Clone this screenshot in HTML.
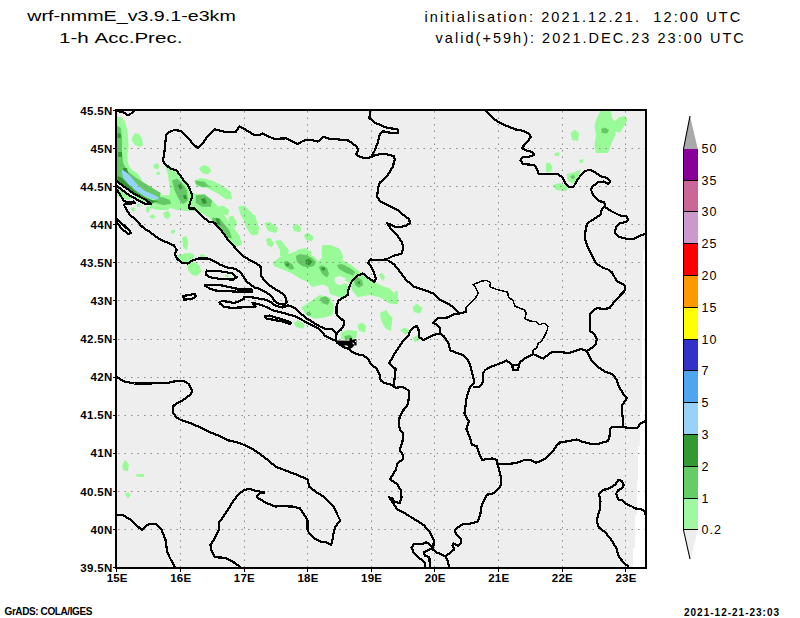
<!DOCTYPE html>
<html><head><meta charset="utf-8"><title>wrf-nmmE 1-h Acc.Prec.</title>
<style>html,body{margin:0;padding:0;background:#fff;width:800px;height:618px;overflow:hidden;position:relative}</style>
</head><body>
<svg width="800" height="618" style="position:absolute;left:0;top:0"><rect x="116" y="110" width="529" height="458" fill="#eeeeee"/><rect x="643" y="250" width="2" height="80" fill="#fff"/><rect x="642" y="330" width="3" height="82" fill="#fff"/><rect x="640" y="412" width="5" height="34" fill="#fff"/><rect x="638" y="446" width="7" height="35" fill="#fff"/><rect x="637" y="481" width="8" height="34" fill="#fff"/><rect x="635" y="515" width="10" height="33" fill="#fff"/><rect x="633" y="548" width="12" height="20" fill="#fff"/><path d="M116.5,116.5 121.8,117.0 124.0,120.0 126.0,125.0 127.8,135.0 128.5,146.0 127.5,154.0 127.5,160.0 129.0,166.0 132.0,170.0 137.0,173.0 141.0,178.0 142.0,182.0 144.0,187.0 150.0,189.0 156.0,192.0 160.0,195.0 169.5,195.5 170.0,189.0 169.0,182.0 168.0,175.0 166.0,168.0 166.0,165.0 172.0,167.5 175.0,171.0 179.4,176.0 183.0,181.0 187.5,185.0 191.0,191.0 195.0,194.0 200.0,194.0 205.0,196.0 210.0,198.0 213.0,201.0 219.5,208.0 224.5,215.5 232.0,225.5 239.5,235.5 242.0,244.2 237.0,246.8 229.5,240.5 222.0,233.0 217.0,225.5 209.5,218.0 202.0,213.0 194.5,211.0 187.0,211.0 177.0,210.0 167.0,207.0 157.0,205.5 149.5,204.2 142.0,201.8 132.0,194.2 124.5,188.0 118.2,183.0 116.5,180.5Z" fill="#98fb98"/><path d="M132.0,138.0 135.0,133.0 139.0,134.0 142.0,139.0 143.2,145.0 140.0,147.0 135.0,145.0 132.0,141.0Z" fill="#98fb98"/><path d="M153.2,165.0 157.0,163.0 159.5,166.0 158.0,169.2 154.0,168.5Z" fill="#98fb98"/><path d="M198.8,168.0 204.0,165.0 209.0,167.0 211.2,171.0 208.0,174.4 202.0,173.0Z" fill="#98fb98"/><path d="M194.5,180.5 200.8,178.0 212.0,180.5 222.0,185.5 230.8,191.8 232.0,199.2 225.8,199.2 217.0,193.0 207.0,188.0 197.0,186.8Z" fill="#98fb98"/><path d="M217.0,207.0 223.0,205.5 229.5,210.0 228.0,215.5 221.0,214.0Z" fill="#98fb98"/><path d="M228.2,217.0 233.0,215.5 237.0,222.0 235.0,228.0 230.0,225.0Z" fill="#98fb98"/><path d="M238.2,206.8 244.5,205.5 252.0,213.0 257.0,223.0 258.8,227.5 258.2,234.2 252.0,235.5 247.0,225.5 240.8,215.5Z" fill="#98fb98"/><path d="M246.2,215.0 255.0,215.0 258.8,227.5 256.2,235.0 250.0,233.8 245.0,225.0Z" fill="#98fb98"/><path d="M264.5,223.0 270.0,221.8 278.2,228.0 276.0,233.0 268.0,231.0Z" fill="#98fb98"/><path d="M292.5,226.0 297.0,223.8 301.2,228.0 300.0,232.5 294.0,231.0Z" fill="#98fb98"/><path d="M303.8,235.0 308.0,232.5 313.8,237.0 312.0,241.2 306.0,240.0Z" fill="#98fb98"/><path d="M266.2,239.0 270.0,237.5 273.8,243.0 272.0,247.5 267.0,245.0Z" fill="#98fb98"/><path d="M275.0,241.0 281.0,240.0 288.8,250.0 287.0,256.2 281.0,252.0Z" fill="#98fb98"/><path d="M182.0,238.0 186.0,235.5 188.2,242.0 187.0,250.5 183.0,247.0Z" fill="#98fb98"/><path d="M163.2,213.0 168.0,210.5 170.8,215.0 168.0,219.2 164.0,217.0Z" fill="#98fb98"/><path d="M149.5,216.0 153.0,214.2 155.8,217.0 152.0,219.2Z" fill="#98fb98"/><path d="M170.8,231.0 174.0,229.2 175.8,232.0 172.0,234.2Z" fill="#98fb98"/><path d="M178.0,256.0 186.0,253.0 194.5,255.0 190.0,258.0 180.0,258.0Z" fill="#98fb98"/><path d="M297.0,250.0 305.0,248.0 312.0,252.0 310.0,258.0 300.0,257.0Z" fill="#98fb98"/><path d="M272.5,262.5 280.0,257.0 291.2,253.0 300.2,249.5 309.0,254.0 313.8,256.2 318.2,261.0 322.0,258.0 321.6,250.0 322.5,245.0 331.2,245.0 340.0,249.0 343.0,256.0 342.5,260.0 351.2,265.0 360.0,272.0 370.0,278.8 380.0,285.0 390.0,288.8 396.2,295.0 397.5,303.8 390.0,303.8 380.0,297.5 370.0,295.0 362.5,296.2 357.5,297.5 352.0,290.0 350.0,284.0 347.5,281.5 343.0,280.5 338.5,282.0 336.2,290.0 330.6,288.9 327.2,286.6 322.8,284.4 312.0,287.0 308.0,282.0 300.2,278.8 291.2,273.0 280.0,268.6 273.8,266.0Z" fill="#98fb98"/><path d="M280.0,249.0 286.0,247.0 289.0,252.0 285.0,257.0 280.0,256.0Z" fill="#98fb98"/><path d="M328.4,288.0 334.0,284.0 340.0,285.0 346.0,283.0 348.0,286.0 347.2,297.0 342.0,298.0 336.0,296.0 330.0,294.0Z" fill="#98fb98"/><path d="M334.2,277.5 340.0,276.0 346.0,278.5 343.0,283.5 337.0,284.5 335.0,282.0Z" fill="#eeeeee"/><path d="M301.2,307.5 312.5,300.0 320.0,295.0 330.0,297.5 333.8,305.0 332.5,315.0 325.0,317.5 315.0,318.8 306.2,315.0Z" fill="#98fb98"/><path d="M293.8,323.0 298.0,320.0 305.0,325.0 303.0,328.8 296.0,327.0Z" fill="#98fb98"/><path d="M341.2,332.0 348.0,330.0 357.5,331.0 356.0,338.0 348.0,340.6 341.0,339.0Z" fill="#98fb98"/><path d="M357.5,325.0 362.0,322.5 366.2,326.0 365.0,332.5 359.0,331.0Z" fill="#98fb98"/><path d="M380.0,313.0 386.0,310.0 392.5,318.0 391.0,331.2 385.0,328.0 381.0,320.0Z" fill="#98fb98"/><path d="M378.8,275.0 382.0,272.5 385.0,277.0 383.0,281.2Z" fill="#98fb98"/><path d="M412.5,307.0 417.0,303.8 422.5,308.0 420.0,313.8 414.0,312.0Z" fill="#98fb98"/><path d="M400.0,330.0 405.0,327.5 410.0,331.0 406.0,335.0Z" fill="#98fb98"/><path d="M412.5,338.0 417.0,335.0 420.0,339.0 415.0,342.5Z" fill="#98fb98"/><path d="M395.0,291.0 397.8,291.0 397.8,304.0 395.0,304.0Z" fill="#98fb98"/><path d="M122.3,465.0 125.0,460.0 128.9,464.0 128.0,471.2 123.0,470.0Z" fill="#98fb98"/><path d="M136.4,474.0 143.9,474.0 143.9,476.9 136.4,476.9Z" fill="#98fb98"/><path d="M125.0,494.0 128.0,491.9 130.8,495.0 128.0,498.4Z" fill="#98fb98"/><path d="M600.5,111.0 611.0,111.0 612.0,118.0 615.5,122.0 615.5,135.0 612.0,142.0 608.0,153.0 596.0,153.0 594.5,145.0 596.0,135.0 594.5,125.0 597.0,118.0Z" fill="#98fb98"/><path d="M614.0,122.0 619.0,117.0 625.0,116.0 627.5,120.0 624.0,126.0 620.0,132.8 615.0,131.0Z" fill="#98fb98"/><path d="M570.5,133.0 575.0,129.8 579.0,133.0 578.0,141.0 572.0,140.0Z" fill="#98fb98"/><path d="M554.8,153.0 559.2,152.2 559.2,156.0 554.8,156.0Z" fill="#98fb98"/><path d="M579.5,160.0 583.2,159.0 583.2,162.8 579.5,162.8Z" fill="#98fb98"/><path d="M545.8,165.0 550.0,162.8 552.5,167.0 551.0,171.8 546.0,170.0Z" fill="#98fb98"/><path d="M566.8,174.0 575.0,172.0 581.0,169.5 578.0,178.0 573.0,183.8 568.0,181.0Z" fill="#98fb98"/><path d="M552.5,185.0 560.0,183.0 569.0,187.0 566.0,191.2 556.0,190.0Z" fill="#98fb98"/><path d="M546.0,163.0 550.0,163.0 550.0,172.0 546.0,172.0Z" fill="#98fb98"/><path d="M131.0,208.0 133.5,207.0 135.6,209.5 134.0,211.6 131.5,211.0Z" fill="#98fb98"/><path d="M136.5,204.5 139.0,203.8 141.0,205.5 139.5,207.2 137.0,206.5Z" fill="#98fb98"/><path d="M146.0,207.0 148.5,206.0 149.6,209.5 148.0,213.4 146.2,211.0Z" fill="#98fb98"/><path d="M150.0,205.0 160.0,206.0 170.0,207.5 168.0,210.0 158.0,210.0 150.0,208.0Z" fill="#98fb98"/><path d="M156.0,172.5 159.0,172.0 160.8,173.5 159.0,175.0 156.5,174.6Z" fill="#98fb98"/><path d="M116.5,125.5 120.8,128.0 122.0,138.0 122.0,153.0 123.2,163.0 127.0,170.5 134.5,176.8 144.5,183.0 154.5,189.2 160.8,193.0 159.5,198.0 149.5,197.5 139.5,194.0 132.0,189.0 124.5,184.0 119.5,181.0 116.5,179.2Z" fill="#64c864"/><path d="M172.0,180.5 177.0,178.5 182.0,183.0 187.0,190.5 188.0,200.5 183.2,204.2 179.5,200.5 174.5,190.5Z" fill="#64c864"/><path d="M195.8,195.5 204.5,194.2 212.0,200.5 210.8,206.8 202.0,206.8 195.8,203.0Z" fill="#64c864"/><path d="M212.0,218.0 219.5,218.0 229.5,230.5 232.0,238.0 227.0,238.0 219.5,228.0 213.2,223.0Z" fill="#64c864"/><path d="M195.2,180.5 204.5,181.8 209.5,186.8 202.0,186.8 195.8,184.2Z" fill="#64c864"/><path d="M295.8,256.0 300.0,254.0 306.0,255.0 312.0,258.0 316.0,262.0 314.0,266.0 308.0,267.5 302.0,266.0 297.0,262.0Z" fill="#64c864"/><path d="M283.4,262.0 287.0,260.8 292.0,264.0 294.6,268.5 291.0,269.8 286.0,267.0Z" fill="#64c864"/><path d="M318.8,267.0 322.0,265.2 327.0,268.0 329.0,274.0 327.0,277.6 322.0,274.0Z" fill="#64c864"/><path d="M336.8,265.0 342.0,264.0 350.0,268.0 355.4,272.0 353.0,275.4 346.0,273.0 339.0,269.0Z" fill="#64c864"/><path d="M354.0,279.0 357.0,276.5 362.0,280.0 363.2,285.0 359.0,287.8 355.0,285.0Z" fill="#64c864"/><path d="M320.0,298.0 326.0,296.2 330.0,300.0 328.0,305.0 322.0,303.0Z" fill="#64c864"/><path d="M306.2,313.0 310.0,311.2 311.2,315.0 308.0,316.2Z" fill="#64c864"/><path d="M344.4,336.0 350.0,335.0 352.5,337.5 350.0,339.4 345.0,339.4Z" fill="#64c864"/><path d="M601.0,129.0 605.0,127.5 609.0,130.0 607.0,133.5 602.0,133.0Z" fill="#64c864"/><path d="M570.5,176.0 574.0,174.8 575.0,178.0 572.0,179.2Z" fill="#64c864"/><path d="M155.0,198.0 162.0,197.0 170.0,200.0 171.0,204.0 163.0,205.0 156.0,203.0Z" fill="#64c864"/><path d="M117.5,133.0 120.8,134.0 120.8,138.0 117.5,138.0Z" fill="#329632"/><path d="M118.0,152.0 122.0,152.0 122.0,156.8 118.0,156.8Z" fill="#329632"/><path d="M123.0,168.0 127.0,168.0 128.0,173.0 124.0,173.0Z" fill="#329632"/><path d="M178.0,185.0 181.0,184.0 182.5,188.0 180.0,190.0Z" fill="#329632"/><path d="M183.0,195.0 186.0,195.0 187.0,199.0 184.0,199.0Z" fill="#329632"/><path d="M200.8,199.0 205.0,198.0 207.0,203.0 203.0,204.0Z" fill="#329632"/><path d="M215.8,218.0 219.0,219.0 220.8,225.5 217.0,224.0Z" fill="#329632"/><path d="M305.3,260.0 309.0,258.5 312.6,262.0 309.0,265.2 306.0,264.0Z" fill="#329632"/><path d="M285.6,263.5 289.0,263.5 289.0,265.8 285.6,265.8Z" fill="#329632"/><path d="M321.6,267.5 325.0,267.5 325.0,270.3 321.6,270.3Z" fill="#329632"/><path d="M357.6,281.5 360.0,281.5 360.0,283.8 357.6,283.8Z" fill="#329632"/><path d="M117.5,176.0 122.0,178.0 127.0,183.0 132.0,188.0 138.0,193.0 145.0,197.0 152.0,200.0 158.0,201.0 150.8,204.0 146.0,200.5 140.0,197.5 133.0,193.5 126.0,188.5 119.0,183.5 117.5,182.0Z" fill="#329632"/><path d="M117.0,188.0 121.0,190.0 127.0,194.0 132.0,198.0 128.0,200.0 121.0,198.0 117.0,196.0Z" fill="#98fb98"/><path d="M122.0,170.0 126.0,172.0 131.0,177.0 135.0,182.0 140.0,187.0 145.0,191.0 152.0,194.0 158.0,197.0 159.0,199.5 152.0,199.0 145.0,196.0 138.0,192.0 132.0,187.5 127.0,182.5 123.0,177.5 122.0,173.0Z" fill="#96d2fa"/><path d="M187.0,263.0 195.0,262.0 200.0,266.0 201.0,272.0 197.0,276.0 192.0,275.0 188.0,270.0Z" fill="#98fb98"/><path d="M177.0,255.0 183.0,254.0 190.0,253.0 194.0,254.0 193.0,259.0 188.0,262.0 181.0,262.0 178.0,259.0Z" fill="#98fb98"/><path d="M200.0,255.0 203.0,254.0 205.5,256.0 203.0,258.0 200.5,257.5Z" fill="#98fb98"/><path d="M225.0,275.0 228.0,274.5 229.0,277.0 226.0,277.5Z" fill="#98fb98"/><path d="M335.3,340.5 349.4,340.8 349.7,338.2 351.6,338.0 352.3,339.4 356.4,339.0 356.6,345.5 354.4,345.2 352.5,347.5 349.6,349.3 345.0,348.7 341.2,346.4 337.5,343.8Z" fill="#000000"/><path d="M344.4,345.3 347.0,345.6 348.5,346.6 347.0,347.6 345.0,346.6Z" fill="#eeeeee"/><path d="M352.3,342.6 354.0,343.0 354.5,344.4 353.0,344.2Z" fill="#eeeeee"/><path d="M355.0,340.8 356.0,341.0 356.0,342.0 355.0,342.0Z" fill="#eeeeee"/><path d="M237.0,288.3 251.7,288.8 252.5,292.8 243.5,293.0 237.0,291.5Z" fill="#000000"/><path d="M180.5 111V567M244.5 111V567M307.5 111V567M371.5 111V567M434.5 111V567M498.5 111V567M562.5 111V567M625.5 111V567M118 148.5H645M118 186.5H645M118 224.5H645M118 262.5H645M118 300.5H645M118 339.5H645M118 377.5H645M118 415.5H645M118 453.5H645M118 491.5H645M118 529.5H645" stroke="#8c8c8c" stroke-width="1" stroke-dasharray="1.5 5" fill="none"/><path d="M260.0,135.0 254.4,135.0 245.0,129.4 239.4,126.6 235.6,132.2 226.3,132.2 215.0,129.4 207.5,136.0 202.8,143.4 198.0,148.0 194.4,145.3 186.9,136.9 181.2,131.2 174.7,129.8 169.0,132.2 166.2,135.0 165.3,142.5 164.4,151.9 163.0,161.0 165.0,164.0 171.0,169.0 176.0,170.0 180.0,175.0 184.0,181.0 188.0,185.5 191.0,192.0 192.3,196.5 189.8,202.8 188.9,208.4 194.5,208.6 200.1,214.5 208.6,221.6 214.2,222.6 220.8,229.7 228.2,240.0 235.8,248.4 243.2,256.4 251.7,261.0 260.4,266.0 260.8,270.0 261.3,275.8 263.7,279.7 269.6,285.5 277.3,290.4 283.2,293.8 286.1,298.2 286.6,302.0 285.1,304.5 283.0,305.5M260.0,135.0 262.5,133.5 273.8,138.8 285.9,138.4 297.2,144.0 303.8,140.6 311.2,139.7 317.8,141.6 323.4,136.9 330.0,138.8 341.2,139.7 348.8,140.6 357.2,147.2 358.1,150.9 356.2,154.1 360.0,157.1 367.5,158.4 372.2,156.6 376.9,154.7 384.4,153.8 393.8,156.0 394.7,159.4 392.8,166.9 386.2,177.2 379.7,182.8 377.8,189.4 377.2,196.9 380.6,201.6 390.0,206.2 397.5,210.0 402.5,214.4 409.0,219.0 410.0,222.8 406.2,225.6 400.6,227.0 395.0,226.6 387.0,223.2 390.0,227.5 397.5,235.9 402.2,242.5 403.4,249.0 401.2,253.8 393.8,255.6 386.2,259.4 376.9,260.3 370.3,259.4 368.4,263.1 371.2,266.9 374.0,272.5 376.0,279.0 374.0,281.9 367.5,277.2 362.8,273.4 358.1,275.3 352.5,280.0 348.8,287.5 347.8,295.0 343.1,297.8 338.4,300.6 336.6,306.2 336.5,314.0 340.0,318.0 344.0,321.0 344.0,325.0 340.6,330.0 336.6,333.2 336.2,337.5 336.2,340.0M386.2,259.4 393.8,264.0 400.6,272.5 406.2,280.0 413.8,286.6 425.0,290.3 434.4,294.0 440.0,299.7 447.5,303.4 453.1,307.2 456.9,310.9 458.8,313.8M370.3,110.6 369.4,118.1 375.0,122.8 386.2,127.5 397.5,129.4 398.4,133.1 391.9,133.1 382.5,131.2 379.7,135.0 377.8,142.5 375.0,150.0 372.2,155.6M485.3,110.6 491.9,117.2 499.4,122.8 506.9,126.0 515.3,129.4 523.8,130.9 529.4,134.1 530.9,137.2 526.6,142.5 521.9,147.8 524.7,150.0 532.2,151.9 534.1,154.7 529.4,156.6 522.8,157.1 520.6,160.3 522.8,164.0 534.1,165.0 536.9,168.8 538.8,174.0 548.0,174.0 557.8,174.3 562.2,177.0 565.2,183.0 569.0,186.8 573.5,186.8 576.5,181.5 581.0,174.8 585.5,171.0 590.0,169.5 594.5,171.8 600.5,176.2 606.5,177.8 610.2,181.5 608.0,183.8 603.5,181.5 598.2,182.2 593.0,186.0 590.8,189.0 591.5,191.0 593.8,196.0 599.0,201.2 604.2,202.0 605.0,206.5 602.0,208.8 600.5,214.8 596.0,217.8 590.0,221.5 587.0,223.8 585.5,230.5 584.8,238.0 587.0,245.5 591.5,254.5 596.0,263.5 603.5,268.0 608.0,269.5 611.8,272.2 614.8,277.5 617.0,281.2 621.5,283.5 625.2,285.8 624.5,291.0 620.0,295.5 614.0,302.2 609.5,308.2 603.5,309.0 597.5,308.2 593.0,310.5 590.0,314.2 590.0,322.5 590.0,330.8 594.5,334.5 596.8,339.0 596.0,343.5 593.0,347.2 587.0,351.0 588.5,354.5 591.5,360.5 597.5,366.5 605.0,371.8 612.5,374.0 616.2,379.2 619.2,386.8 623.0,393.5 626.8,398.0 622.2,405.5 622.2,413.0 623.0,420.5 623.0,427.2M605.0,207.2 611.0,211.0 620.0,215.5 626.0,216.2 628.2,219.2 626.0,222.2 620.0,223.0 616.2,226.8 614.8,232.8 618.5,236.5 626.0,238.8 633.5,238.8 639.5,235.8 645.0,234.2M623.0,427.2 632.0,428.2 638.0,427.5 640.2,423.8 644.8,421.5M623.0,427.2 612.5,426.8 610.2,429.0 609.5,436.5 608.0,441.0 599.0,443.7 590.0,443.7 582.5,441.8 576.5,439.5 569.0,441.0 560.0,442.5 556.2,446.2 552.5,451.5 545.0,459.0 536.0,462.8 530.0,459.8 524.4,460.0 516.9,462.8 507.5,464.1 497.2,463.8M458.8,313.8 466.2,311.9M533.0,354.0 537.5,356.2 543.5,358.5 548.0,354.8 552.5,351.8 561.5,352.2 569.0,353.2 575.0,351.0 581.0,348.8 587.0,351.0M533.0,354.0 530.0,355.9 524.4,358.8 519.7,362.5 518.8,366.2 517.8,370.0 513.1,370.0 512.2,365.3 509.4,362.5 506.6,360.6 500.0,363.4 492.5,366.2 485.0,370.0 483.1,373.8 483.1,379.4 482.2,384.0 479.4,386.9 473.8,386.9M458.8,313.0 453.1,314.7 447.5,317.5 438.1,318.4 434.4,321.2 433.4,323.1 437.2,325.0 440.0,327.8 440.0,333.4 432.5,335.3 423.1,340.0 419.4,337.2 418.4,328.8 416.6,326.0 412.8,327.8 410.0,330.6 409.0,335.3 402.5,341.9 395.0,353.1 389.0,363.4 395.6,369.0 394.7,377.5 393.8,386.9M440.0,333.4 443.8,336.2 448.4,342.8 450.3,350.3 455.0,352.2 462.5,355.0 467.2,358.8 470.0,364.4 471.9,371.9 473.8,379.4 473.8,383.1 470.0,386.9 468.1,392.5 466.2,400.0 465.3,407.5 464.4,413.1 467.2,418.8 469.0,421.6 466.2,429.0 470.0,437.5 471.9,445.0 476.6,446.0 479.4,454.4 482.2,460.0 486.9,459.0 492.5,458.5 497.2,460.0 497.2,463.8 499.1,469.4 500.9,476.9 500.9,485.3 497.2,490.0 492.5,493.8 486.9,494.7 484.1,500.3 481.2,506.9 480.3,514.4 477.5,521.9 470.0,523.6 462.5,524.4 457.0,528.0 454.7,530.7 456.0,534.2 460.5,538.7 461.4,542.2 457.8,545.8 453.4,543.6 452.5,545.8 454.3,549.4 449.8,553.0 445.4,556.5 448.0,561.8 449.0,567.0M432.0,548.5 435.6,552.0 440.0,553.8 445.4,556.5M219.5,302.2 222.5,300.8 228.5,302.0 234.5,303.0 239.8,301.0 243.5,299.2 244.2,296.6 248.0,296.6 256.2,298.1 263.0,299.2 269.0,301.0 276.0,306.0 283.0,307.5 288.0,305.4 293.8,307.4 298.7,311.7 305.5,317.6 313.2,322.4 318.8,326.0 325.3,328.8 331.9,328.8 335.6,332.5 336.6,334.0M220.2,303.8 224.8,307.1 232.2,307.9 239.0,307.5 251.0,307.1 255.5,306.8 252.5,303.0 260.0,304.5 267.5,307.5 271.9,310.0 283.1,312.8 296.2,316.6 307.5,323.1 318.8,328.8 325.0,335.6 328.8,337.5 332.5,339.4 335.3,340.3 337.5,343.0 341.2,345.6 345.0,348.0 348.8,348.8 350.8,351.2 356.2,353.8 360.0,355.0 363.8,355.6 368.0,358.8 371.2,364.4 376.9,369.0 379.7,374.7 380.6,380.3 384.4,383.0 391.9,385.0 395.6,387.8 402.5,387.0 409.0,390.6 409.0,398.0 407.2,405.6 402.5,411.2 399.7,416.9 398.8,422.5 399.7,429.0 403.4,433.8 402.5,441.2 399.7,450.6 403.4,455.3 402.5,460.0 397.8,462.8 395.6,470.0 390.0,479.4 397.5,484.4 400.6,490.0 401.2,494.4 401.6,497.5 399.7,503.1 396.9,502.2 394.7,501.9 391.9,498.1 389.0,497.2 392.8,502.8 397.5,509.4 404.4,513.1 413.8,518.8 424.0,525.3 429.7,531.9 433.8,540.5 433.4,545.8 432.0,548.5 427.6,550.2 424.0,552.5 425.0,555.6 429.4,557.4 429.8,567.0M425.0,567.0 425.0,562.7 419.6,558.3 413.3,552.0 411.6,547.6 414.2,544.0 423.1,543.6 425.8,542.2 429.4,544.0 432.0,546.7M264.7,316.1 269.6,315.6 277.3,318.0 284.1,320.0 290.9,322.4 290.0,323.9 282.2,321.5 274.4,320.0 266.7,318.5 264.7,316.1M123.8,204.6 125.1,207.2 127.3,211.2 129.9,214.7 133.9,218.2 137.4,221.2 140.9,225.6 145.2,229.1 149.6,231.8 154.0,235.2 159.2,238.8 164.5,241.4 171.5,244.4 173.9,245.3 176.7,250.0 174.8,253.8 176.7,258.4 182.3,263.1 187.9,263.5 192.6,260.3 199.2,258.4 207.6,258.4 214.2,261.2 220.8,265.0 228.2,267.8 235.8,268.8 241.4,273.4 247.0,281.9 254.5,287.5 259.9,288.9 267.6,293.3 272.5,297.2 274.4,301.0 278.3,303.5 283.2,304.5M116.7,219.0 123.2,224.7 129.8,231.2 130.8,233.1 128.0,234.0 121.4,228.4 116.7,221.9M206.7,270.6 217.0,270.6 232.0,273.4 236.7,277.2 233.0,279.6 220.8,279.0 209.5,277.2 205.8,274.4 206.7,270.6M204.8,285.6 209.5,284.7 221.0,285.3 237.5,288.8 245.0,289.3 251.7,289.5 251.7,292.3 243.5,292.0 224.5,291.0 215.0,290.5 209.5,288.4 204.8,285.6M183.2,296.0 194.5,294.0 196.4,296.0 192.6,298.8 184.2,299.7 183.2,296.0M116.7,376.6 123.2,381.2 134.5,383.5 149.5,383.5 168.2,382.8 176.7,380.9 183.2,380.9 188.9,384.0 192.2,390.6 190.8,394.4 183.2,400.0 175.8,403.8 172.9,406.6 172.9,412.2 176.7,417.8 180.4,419.7 190.8,423.4 202.0,428.1 211.4,432.8 220.8,436.6 228.2,440.3 239.5,443.1 248.9,446.9 256.4,451.6 264.4,457.2 275.6,466.6 285.0,470.3 296.2,474.5 307.5,479.4 309.4,486.9 316.9,492.5 324.4,497.2 333.8,506.6 337.5,515.0 340.3,520.6 335.6,526.2 333.8,531.9 332.8,538.4 331.0,545.0 326.2,542.2 320.6,541.6 313.1,537.5 309.4,533.8 307.5,530.0 307.5,520.6 305.6,516.9 300.0,508.4 292.5,506.6 279.4,506.0 275.6,506.6 266.2,502.8 257.8,498.1 256.9,496.2 259.7,493.4 264.4,492.5 259.7,491.6 255.0,490.6 248.9,488.8 243.2,490.6 237.6,495.3 232.0,502.8 228.2,509.4 222.6,517.8 218.9,522.5 218.9,530.0 214.2,539.4 210.4,545.0 211.4,550.6 215.1,557.2 224.5,557.8 232.0,561.0 239.5,566.6M116.7,514.6 123.2,515.4 130.8,519.7 136.4,525.3 142.0,530.0 145.8,526.2 149.5,524.0 156.0,524.0 161.7,530.0 165.4,539.4 167.3,552.5 171.0,560.0 174.8,566.6M599.8,510.0 600.5,501.0 599.0,494.2 603.5,489.8 608.0,489.0 615.5,484.5 618.5,480.0 621.5,480.8 623.8,484.5 622.2,488.2 618.5,489.8 616.2,493.5 617.0,496.0 618.5,499.5 623.0,500.5 626.0,504.0 632.0,506.5 635.0,508.5 639.5,508.8 644.8,511.0 644.8,514.0M599.8,510.0 597.5,517.0 596.8,522.2 599.0,527.5 605.0,532.0 611.0,539.5 616.2,547.8 618.5,556.0 623.0,562.0 628.2,566.5M116.5,110.5 120.2,111.6 123.2,112.0 127.0,115.0 129.2,114.6 132.2,112.8 134.0,111.2 134.5,110.0M116.0,180.0 119.0,183.0 126.0,188.0 133.0,193.0 140.0,197.0 146.0,200.0 150.8,204.0M117.0,186.0 122.0,190.0 129.0,195.0 136.0,199.0 141.0,202.0 146.0,204.0 150.8,204.0M117.0,190.0 121.0,196.0 123.6,201.0 128.0,202.0 134.0,201.5 135.3,203.0 128.0,204.0 124.0,204.5M512.5,365.0 518.5,365.0" stroke="#000" stroke-width="2.2" fill="none" stroke-linejoin="round" stroke-linecap="round" shape-rendering="crispEdges"/><path d="M466.2,311.9 466.2,307.2 471.0,302.5 475.6,297.8 478.4,293.1 475.6,287.5 472.8,284.7 477.5,282.8 482.2,280.9 486.9,280.4 490.6,282.8 489.7,286.6 496.2,289.4 503.8,291.2 507.5,292.2 508.4,296.9 513.0,300.6 515.0,306.2 524.4,310.0 526.2,312.8 525.3,317.0 524.4,318.4 530.0,321.0 536.0,321.8 539.0,324.8 544.2,323.2 548.0,326.2 547.2,330.0 545.0,335.2 542.0,340.5 538.2,343.5 536.8,348.0 533.0,350.2 533.0,354.0" stroke="#000" stroke-width="1.5" fill="none" stroke-linejoin="round" stroke-linecap="round" shape-rendering="crispEdges"/><rect x="116" y="110" width="530" height="458" fill="none" stroke="#000" stroke-width="2"/><path d="M116.5 568V572M180.5 568V572M244.5 568V572M307.5 568V572M371.5 568V572M434.5 568V572M498.5 568V572M562.5 568V572M625.5 568V572M113 110.5H116M113 148.5H116M113 186.5H116M113 224.5H116M113 262.5H116M113 300.5H116M113 339.5H116M113 377.5H116M113 415.5H116M113 453.5H116M113 491.5H116M113 529.5H116M113 567.5H116" stroke="#000" stroke-width="1"/><rect x="684" y="149" width="14" height="31" fill="#880099"/><rect x="684" y="181" width="14" height="30" fill="#cc6699"/><rect x="684" y="212" width="14" height="31" fill="#cc99cc"/><rect x="684" y="244" width="14" height="31" fill="#ff0000"/><rect x="684" y="276" width="14" height="31" fill="#ff9900"/><rect x="684" y="308" width="14" height="31" fill="#ffff00"/><rect x="684" y="340" width="14" height="30" fill="#3232c8"/><rect x="684" y="371" width="14" height="31" fill="#50a5f0"/><rect x="684" y="403" width="14" height="31" fill="#99d2f8"/><rect x="684" y="435" width="14" height="31" fill="#339933"/><rect x="684" y="467" width="14" height="31" fill="#66cc66"/><rect x="684" y="499" width="14" height="30" fill="#a0f8a0"/><path d="M684 180.5H698M684 211.5H698M684 243.5H698M684 275.5H698M684 307.5H698M684 339.5H698M684 370.5H698M684 402.5H698M684 434.5H698M684 466.5H698M684 498.5H698M684 529.5H698" stroke="#000" stroke-width="1" shape-rendering="crispEdges"/><path d="M683.5 149L690 116L697.8 149Z" fill="#aaaaaa"/><path d="M684 530L690 562L697.8 530Z" fill="#eeeeee"/><path d="M683.5 148V530" stroke="#000" stroke-width="1" fill="none" shape-rendering="crispEdges"/><path d="M683.5 149L690 116M683.5 530L690 559" stroke="#000" stroke-width="1.1" fill="none"/></svg>
<svg width="800" height="618" style="position:absolute;left:0;top:0" font-family="Liberation Sans, sans-serif"><text x="27.2" y="21" font-size="14.5" letter-spacing="0" font-weight="normal" text-anchor="start" textLength="208.6" lengthAdjust="spacingAndGlyphs">wrf-nmmE_v3.9.1-e3km</text><text x="59.0" y="43" font-size="14.5" letter-spacing="0" font-weight="normal" text-anchor="start" textLength="123.4" lengthAdjust="spacingAndGlyphs">1-h Acc.Prec.</text><text x="424.4" y="21.5" font-size="14.5" letter-spacing="0" font-weight="normal" text-anchor="start" textLength="315.9" lengthAdjust="spacing">initialisation: 2021.12.21.  12:00 UTC</text><text x="435.6" y="42.5" font-size="14.5" letter-spacing="0" font-weight="normal" text-anchor="start" textLength="308.2" lengthAdjust="spacing">valid(+59h): 2021.DEC.23 23:00 UTC</text><text x="4.5" y="615" font-size="10" letter-spacing="-0.4" font-weight="bold" text-anchor="start">GrADS: COLA/IGES</text><text x="684" y="615.5" font-size="10" letter-spacing="1.0" font-weight="bold" text-anchor="start">2021-12-21-23:03</text><text x="112.5" y="114.5" font-size="11.5" letter-spacing="0.3" font-weight="bold" text-anchor="end">45.5N</text><text x="112.5" y="152.6" font-size="11.5" letter-spacing="0.3" font-weight="bold" text-anchor="end">45N</text><text x="112.5" y="190.7" font-size="11.5" letter-spacing="0.3" font-weight="bold" text-anchor="end">44.5N</text><text x="112.5" y="228.79999999999998" font-size="11.5" letter-spacing="0.3" font-weight="bold" text-anchor="end">44N</text><text x="112.5" y="266.90000000000003" font-size="11.5" letter-spacing="0.3" font-weight="bold" text-anchor="end">43.5N</text><text x="112.5" y="305.0" font-size="11.5" letter-spacing="0.3" font-weight="bold" text-anchor="end">43N</text><text x="112.5" y="343.1" font-size="11.5" letter-spacing="0.3" font-weight="bold" text-anchor="end">42.5N</text><text x="112.5" y="381.20000000000005" font-size="11.5" letter-spacing="0.3" font-weight="bold" text-anchor="end">42N</text><text x="112.5" y="419.3" font-size="11.5" letter-spacing="0.3" font-weight="bold" text-anchor="end">41.5N</text><text x="112.5" y="457.40000000000003" font-size="11.5" letter-spacing="0.3" font-weight="bold" text-anchor="end">41N</text><text x="112.5" y="495.50000000000006" font-size="11.5" letter-spacing="0.3" font-weight="bold" text-anchor="end">40.5N</text><text x="112.5" y="533.6" font-size="11.5" letter-spacing="0.3" font-weight="bold" text-anchor="end">40N</text><text x="112.5" y="571.7" font-size="11.5" letter-spacing="0.3" font-weight="bold" text-anchor="end">39.5N</text><text x="117.2" y="581.6" font-size="11.5" letter-spacing="0.2" font-weight="bold" text-anchor="middle">15E</text><text x="180.8" y="581.6" font-size="11.5" letter-spacing="0.2" font-weight="bold" text-anchor="middle">16E</text><text x="244.40000000000003" y="581.6" font-size="11.5" letter-spacing="0.2" font-weight="bold" text-anchor="middle">17E</text><text x="308.00000000000006" y="581.6" font-size="11.5" letter-spacing="0.2" font-weight="bold" text-anchor="middle">18E</text><text x="371.6" y="581.6" font-size="11.5" letter-spacing="0.2" font-weight="bold" text-anchor="middle">19E</text><text x="435.2" y="581.6" font-size="11.5" letter-spacing="0.2" font-weight="bold" text-anchor="middle">20E</text><text x="498.8" y="581.6" font-size="11.5" letter-spacing="0.2" font-weight="bold" text-anchor="middle">21E</text><text x="562.4" y="581.6" font-size="11.5" letter-spacing="0.2" font-weight="bold" text-anchor="middle">22E</text><text x="626.0" y="581.6" font-size="11.5" letter-spacing="0.2" font-weight="bold" text-anchor="middle">23E</text><text x="701.5" y="534.0" font-size="12.5" letter-spacing="1.0" font-weight="normal" text-anchor="start">0.2</text><text x="701.5" y="503.0" font-size="12.5" letter-spacing="1.0" font-weight="normal" text-anchor="start">1</text><text x="701.5" y="471.0" font-size="12.5" letter-spacing="1.0" font-weight="normal" text-anchor="start">2</text><text x="701.5" y="439.0" font-size="12.5" letter-spacing="1.0" font-weight="normal" text-anchor="start">3</text><text x="701.5" y="407.0" font-size="12.5" letter-spacing="1.0" font-weight="normal" text-anchor="start">5</text><text x="701.5" y="375.0" font-size="12.5" letter-spacing="1.0" font-weight="normal" text-anchor="start">7</text><text x="701.5" y="344.0" font-size="12.5" letter-spacing="1.0" font-weight="normal" text-anchor="start">10</text><text x="701.5" y="312.0" font-size="12.5" letter-spacing="1.0" font-weight="normal" text-anchor="start">15</text><text x="701.5" y="280.0" font-size="12.5" letter-spacing="1.0" font-weight="normal" text-anchor="start">20</text><text x="701.5" y="248.0" font-size="12.5" letter-spacing="1.0" font-weight="normal" text-anchor="start">25</text><text x="701.5" y="216.0" font-size="12.5" letter-spacing="1.0" font-weight="normal" text-anchor="start">30</text><text x="701.5" y="185.0" font-size="12.5" letter-spacing="1.0" font-weight="normal" text-anchor="start">35</text><text x="701.5" y="153.0" font-size="12.5" letter-spacing="1.0" font-weight="normal" text-anchor="start">50</text></svg>
</body></html>
